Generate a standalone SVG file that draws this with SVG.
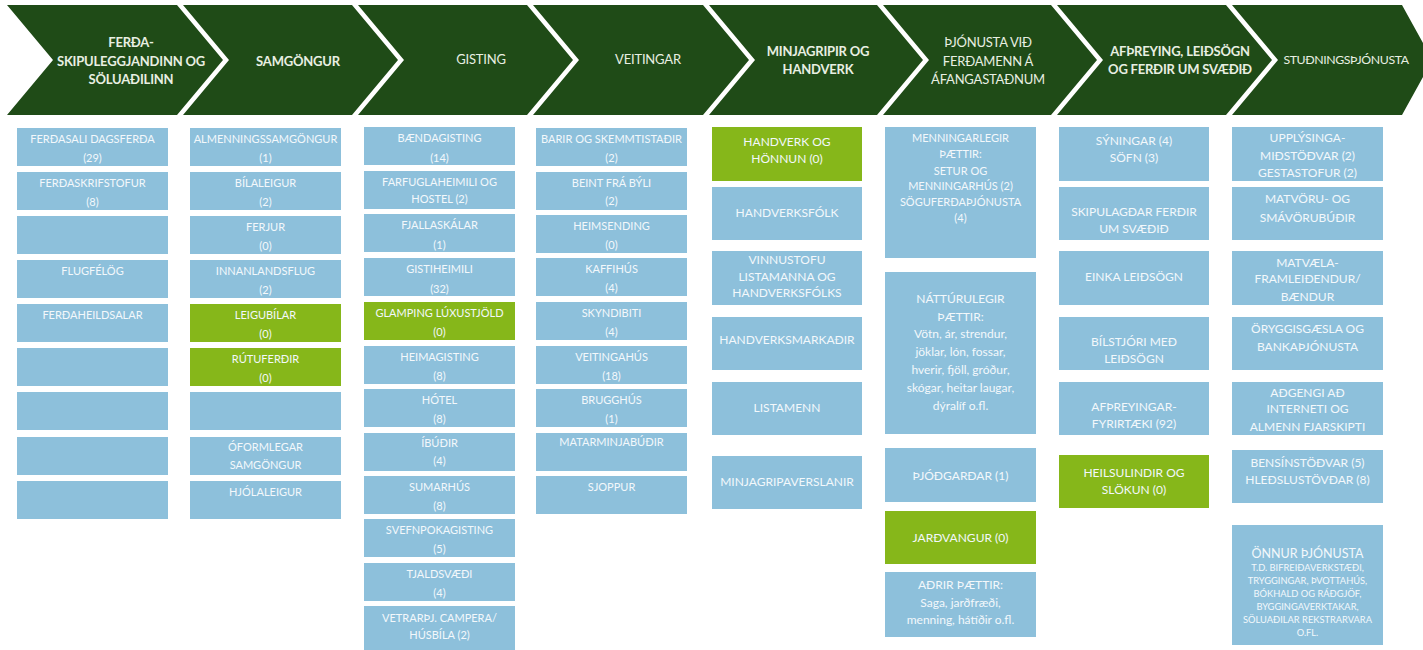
<svg xmlns="http://www.w3.org/2000/svg" width="1423" height="650" viewBox="0 0 1423 650">
<style>
.hd{fill:#1f4b17}
.b{fill:#8dc0db}
.g{fill:#86b71a}
text{font-family:Lato,"Open Sans","DejaVu Sans",sans-serif;text-anchor:middle;fill:#f3f8fb}
.h text{font-size:13px;fill:#e8efe2;letter-spacing:-0.2px}
.h .bo{font-weight:bold}
.t{font-size:11px}
.m{font-size:12px}
.s{font-size:9.3px}
</style>
<rect width="1423" height="650" fill="#ffffff"/>
<g id="header" class="h">
<g id="h1"><polygon class="hd" points="7,5 177,5 223,60 177,115 7,115 53,60"/><text class="bo" x="131" y="47">FERÐA-</text><text class="bo" x="131" y="66">SKIPULEGGJANDINN OG</text><text class="bo" x="131" y="84">SÖLUAÐILINN</text></g>
<g id="h2"><polygon class="hd" points="183,5 352,5 398,60 352,115 183,115 229,60"/><text class="bo" x="298" y="66">SAMGÖNGUR</text></g>
<g id="h3"><polygon class="hd" points="358,5 527,5 573,60 527,115 358,115 404,60"/><text x="481" y="64">GISTING</text></g>
<g id="h4"><polygon class="hd" points="533,5 703,5 749,60 703,115 533,115 579,60"/><text x="648" y="64">VEITINGAR</text></g>
<g id="h5"><polygon class="hd" points="709,5 877,5 923,60 877,115 709,115 755,60"/><text class="bo" x="818" y="56">MINJAGRIPIR OG</text><text class="bo" x="818" y="74">HANDVERK</text></g>
<g id="h6"><polygon class="hd" points="883,5 1051,5 1097,60 1051,115 883,115 929,60"/><text x="988" y="47">ÞJÓNUSTA VIÐ</text><text x="988" y="66">FERÐAMENN Á</text><text x="988" y="84">ÁFANGASTAÐNUM</text></g>
<g id="h7"><polygon class="hd" points="1057,5 1226,5 1272,60 1226,115 1057,115 1103,60"/><text class="bo" x="1180" y="56">AFÞREYING, LEIÐSÖGN</text><text class="bo" x="1180" y="74">OG FERÐIR UM SVÆÐIÐ</text></g>
<g id="h8"><polygon class="hd" points="1232,5 1402,5 1423,43 1423,77 1402,115 1232,115 1278,60"/><text x="1346" y="64" style="font-size:12.3px;letter-spacing:-0.4px">STUÐNINGSÞJÓNUSTA</text></g>
</g>
<g id="connectors"/>
<g id="col1" class="t">
<g id="c1a"><rect class="b" x="17" y="128" width="151" height="38"/><text x="92.5" y="143">FERÐASALI DAGSFERÐA</text><text x="92.5" y="162">(29)</text></g>
<g id="c1b"><rect class="b" x="17" y="172" width="151" height="38"/><text x="92.5" y="187">FERÐASKRIFSTOFUR</text><text x="92.5" y="206">(8)</text></g>
<g id="c1c"><rect class="b" x="17" y="216" width="151" height="38"/></g>
<g id="c1d"><rect class="b" x="17" y="260" width="151" height="38"/><text x="92.5" y="275">FLUGFÉLÖG</text></g>
<g id="c1e"><rect class="b" x="17" y="304" width="151" height="38"/><text x="92.5" y="319">FERÐAHEILDSALAR</text></g>
<g id="c1f"><rect class="b" x="17" y="348" width="151" height="38"/></g>
<g id="c1g"><rect class="b" x="17" y="392" width="151" height="38"/></g>
<g id="c1h"><rect class="b" x="17" y="437" width="151" height="38"/></g>
<g id="c1i"><rect class="b" x="17" y="481" width="151" height="38"/></g>
</g>
<g id="col2" class="t">
<g id="c2a"><rect class="b" x="190" y="128" width="151" height="38"/><text x="265.5" y="143">ALMENNINGSSAMGÖNGUR</text><text x="265.5" y="162">(1)</text></g>
<g id="c2b"><rect class="b" x="190" y="172" width="151" height="38"/><text x="265.5" y="187">BÍLALEIGUR</text><text x="265.5" y="206">(2)</text></g>
<g id="c2c"><rect class="b" x="190" y="216" width="151" height="38"/><text x="265.5" y="231">FERJUR</text><text x="265.5" y="250">(0)</text></g>
<g id="c2d"><rect class="b" x="190" y="260" width="151" height="38"/><text x="265.5" y="275">INNANLANDSFLUG</text><text x="265.5" y="294">(2)</text></g>
<g id="c2e"><rect class="g" x="190" y="304" width="151" height="38"/><text x="265.5" y="319">LEIGUBÍLAR</text><text x="265.5" y="338">(0)</text></g>
<g id="c2f"><rect class="g" x="190" y="348" width="151" height="38"/><text x="265.5" y="363">RÚTUFERÐIR</text><text x="265.5" y="382">(0)</text></g>
<g id="c2g"><rect class="b" x="190" y="392" width="151" height="38"/></g>
<g id="c2h"><rect class="b" x="190" y="437" width="151" height="38"/><text x="265.5" y="451">ÓFORMLEGAR</text><text x="265.5" y="469">SAMGÖNGUR</text></g>
<g id="c2i"><rect class="b" x="190" y="481" width="151" height="38"/><text x="265.5" y="496">HJÓLALEIGUR</text></g>
</g>
<g id="col3" class="t">
<g id="c3a"><rect class="b" x="364" y="127" width="151" height="38"/><text x="439.5" y="142">BÆNDAGISTING</text><text x="439.5" y="162">(14)</text></g>
<g id="c3b"><rect class="b" x="364" y="171" width="151" height="38"/><text x="439.5" y="186">FARFUGLAHEIMILI OG</text><text x="439.5" y="203">HOSTEL (2)</text></g>
<g id="c3c"><rect class="b" x="364" y="214" width="151" height="38"/><text x="439.5" y="229">FJALLASKÁLAR</text><text x="439.5" y="249">(1)</text></g>
<g id="c3d"><rect class="b" x="364" y="258" width="151" height="38"/><text x="439.5" y="273">GISTIHEIMILI</text><text x="439.5" y="293">(32)</text></g>
<g id="c3e"><rect class="g" x="364" y="302" width="151" height="38"/><text x="439.5" y="317">GLAMPING LÚXUSTJÖLD</text><text x="439.5" y="336">(0)</text></g>
<g id="c3f"><rect class="b" x="364" y="346" width="151" height="38"/><text x="439.5" y="361">HEIMAGISTING</text><text x="439.5" y="380">(8)</text></g>
<g id="c3g"><rect class="b" x="364" y="389" width="151" height="38"/><text x="439.5" y="404">HÓTEL</text><text x="439.5" y="423">(8)</text></g>
<g id="c3h"><rect class="b" x="364" y="433" width="151" height="38"/><text x="439.5" y="447">ÍBÚÐIR</text><text x="439.5" y="465">(4)</text></g>
<g id="c3i"><rect class="b" x="364" y="476" width="151" height="38"/><text x="439.5" y="491">SUMARHÚS</text><text x="439.5" y="510">(8)</text></g>
<g id="c3j"><rect class="b" x="364" y="519" width="151" height="38"/><text x="439.5" y="534">SVEFNPOKAGISTING</text><text x="439.5" y="553">(5)</text></g>
<g id="c3k"><rect class="b" x="364" y="563" width="151" height="38"/><text x="439.5" y="578">TJALDSVÆÐI</text><text x="439.5" y="597">(4)</text></g>
<g id="c3l"><rect class="b" x="364" y="606" width="151" height="44"/><text x="439.5" y="622">VETRARÞJ. CAMPERA/</text><text x="439.5" y="639">HÚSBÍLA (2)</text></g>
</g>
<g id="col4" class="t">
<g id="c4a"><rect class="b" x="536" y="128" width="151" height="38"/><text x="611.5" y="143">BARIR OG SKEMMTISTAÐIR</text><text x="611.5" y="162">(2)</text></g>
<g id="c4b"><rect class="b" x="536" y="172" width="151" height="38"/><text x="611.5" y="187">BEINT FRÁ BÝLI</text><text x="611.5" y="205">(2)</text></g>
<g id="c4c"><rect class="b" x="536" y="215" width="151" height="38"/><text x="611.5" y="230">HEIMSENDING</text><text x="611.5" y="249">(0)</text></g>
<g id="c4d"><rect class="b" x="536" y="258" width="151" height="38"/><text x="611.5" y="273">KAFFIHÚS</text><text x="611.5" y="292">(4)</text></g>
<g id="c4e"><rect class="b" x="536" y="302" width="151" height="38"/><text x="611.5" y="317">SKYNDIBITI</text><text x="611.5" y="336">(4)</text></g>
<g id="c4f"><rect class="b" x="536" y="346" width="151" height="38"/><text x="611.5" y="361">VEITINGAHÚS</text><text x="611.5" y="380">(18)</text></g>
<g id="c4g"><rect class="b" x="536" y="389" width="151" height="38"/><text x="611.5" y="404">BRUGGHÚS</text><text x="611.5" y="423">(1)</text></g>
<g id="c4h"><rect class="b" x="536" y="433" width="151" height="38"/><text x="611.5" y="446">MATARMINJABÚÐIR</text></g>
<g id="c4i"><rect class="b" x="536" y="476" width="151" height="38"/><text x="611.5" y="491">SJOPPUR</text></g>
</g>
<g id="col5" class="m">
<g id="c5a"><rect class="g" x="712" y="127" width="150" height="54"/><text x="787" y="146">HANDVERK OG</text><text x="787" y="163">HÖNNUN (0)</text></g>
<g id="c5b"><rect class="b" x="712" y="187" width="150" height="53"/><text x="787" y="217">HANDVERKSFÓLK</text></g>
<g id="c5c"><rect class="b" x="712" y="251" width="150" height="54"/><text x="787" y="264">VINNUSTOFU</text><text x="787" y="281">LISTAMANNA OG</text><text x="787" y="297">HANDVERKSFÓLKS</text></g>
<g id="c5d"><rect class="b" x="712" y="317" width="150" height="53"/><text x="787" y="344">HANDVERKSMARKAÐIR</text></g>
<g id="c5e"><rect class="b" x="712" y="382" width="150" height="53"/><text x="787" y="412">LISTAMENN</text></g>
<g id="c5f"><rect class="b" x="712" y="456" width="150" height="53"/><text x="787" y="486">MINJAGRIPAVERSLANIR</text></g>
</g>
<g id="col6" class="m">
<g id="c6a" class="t"><rect class="b" x="885" y="127" width="151" height="131"/><text x="960.5" y="142">MENNINGARLEGIR</text><text x="960.5" y="158">ÞÆTTIR:</text><text x="960.5" y="175">SETUR OG</text><text x="960.5" y="190">MENNINGARHÚS (2)</text><text x="960.5" y="206">SÖGUFERÐAÞJÓNUSTA</text><text x="960.5" y="222">(4)</text></g>
<g id="c6b"><rect class="b" x="885" y="272" width="151" height="162"/><text x="960.5" y="303">NÁTTÚRULEGIR</text><text x="960.5" y="321">ÞÆTTIR:</text><text x="960.5" y="338">Vötn, ár, strendur,</text><text x="960.5" y="356">jöklar, lón, fossar,</text><text x="960.5" y="374">hverir, fjöll, gróður,</text><text x="960.5" y="392">skógar, heitar laugar,</text><text x="960.5" y="410">dýralíf o.fl.</text></g>
<g id="c6c"><rect class="b" x="885" y="448" width="151" height="54"/><text x="960.5" y="480">ÞJÓÐGARÐAR (1)</text></g>
<g id="c6d"><rect class="g" x="885" y="511" width="151" height="53"/><text x="960.5" y="542">JARÐVANGUR (0)</text></g>
<g id="c6e"><rect class="b" x="885" y="572" width="151" height="65"/><text x="960.5" y="589">AÐRIR ÞÆTTIR:</text><text x="960.5" y="607">Saga, jarðfræði,</text><text x="960.5" y="624">menning, hátíðir o.fl.</text></g>
</g>
<g id="col7" class="m">
<g id="c7a"><rect class="b" x="1059" y="127" width="150" height="54"/><text x="1134" y="145">SÝNINGAR (4)</text><text x="1134" y="162">SÖFN (3)</text></g>
<g id="c7b"><rect class="b" x="1059" y="187" width="150" height="53"/><text x="1134" y="216">SKIPULAGÐAR FERÐIR</text><text x="1134" y="233">UM SVÆÐIÐ</text></g>
<g id="c7c"><rect class="b" x="1059" y="251" width="150" height="54"/><text x="1134" y="281">EINKA LEIÐSÖGN</text></g>
<g id="c7d"><rect class="b" x="1059" y="317" width="150" height="53"/><text x="1134" y="346">BÍLSTJÓRI MEÐ</text><text x="1134" y="363">LEIÐSÖGN</text></g>
<g id="c7e"><rect class="b" x="1059" y="382" width="150" height="53"/><text x="1134" y="411">AFÞREYINGAR-</text><text x="1134" y="428">FYRIRTÆKI (92)</text></g>
<g id="c7f"><rect class="g" x="1059" y="455" width="150" height="53"/><text x="1134" y="477">HEILSULINDIR OG</text><text x="1134" y="494">SLÖKUN (0)</text></g>
</g>
<g id="col8" class="m">
<g id="c8a"><rect class="b" x="1232" y="127" width="151" height="54"/><text x="1307.5" y="142">UPPLÝSINGA-</text><text x="1307.5" y="160">MIÐSTÖÐVAR (2)</text><text x="1307.5" y="177">GESTASTOFUR (2)</text></g>
<g id="c8b"><rect class="b" x="1232" y="187" width="151" height="53"/><text x="1307.5" y="203">MATVÖRU- OG</text><text x="1307.5" y="222">SMÁVÖRUBÚÐIR</text></g>
<g id="c8c"><rect class="b" x="1232" y="251" width="151" height="54"/><text x="1307.5" y="267">MATVÆLA-</text><text x="1307.5" y="283">FRAMLEIÐENDUR/</text><text x="1307.5" y="301">BÆNDUR</text></g>
<g id="c8d"><rect class="b" x="1232" y="317" width="151" height="53"/><text x="1307.5" y="333">ÖRYGGISGÆSLA OG</text><text x="1307.5" y="351">BANKAÞJÓNUSTA</text></g>
<g id="c8e"><rect class="b" x="1232" y="382" width="151" height="53"/><text x="1307.5" y="397">AÐGENGI AÐ</text><text x="1307.5" y="413">INTERNETI OG</text><text x="1307.5" y="431">ALMENN FJARSKIPTI</text></g>
<g id="c8f"><rect class="b" x="1232" y="450" width="151" height="53"/><text x="1307.5" y="467">BENSÍNSTÖÐVAR (5)</text><text x="1307.5" y="484">HLEÐSLUSTÖVÐAR (8)</text></g>
<g id="c8g"><rect class="b" x="1232" y="525" width="151" height="120"/><text x="1307.5" y="558" style="font-size:12.5px">ÖNNUR ÞJÓNUSTA</text><text class="s" x="1307.5" y="571">T.D. BIFREIÐAVERKSTÆÐI,</text><text class="s" x="1307.5" y="584">TRYGGINGAR, ÞVOTTAHÚS,</text><text class="s" x="1307.5" y="597">BÓKHALD OG RÁÐGJÖF,</text><text class="s" x="1307.5" y="610">BYGGINGAVERKTAKAR,</text><text class="s" x="1307.5" y="623">SÖLUAÐILAR REKSTRARVARA</text><text class="s" x="1307.5" y="636">O.FL.</text></g>
</g>
</svg>
